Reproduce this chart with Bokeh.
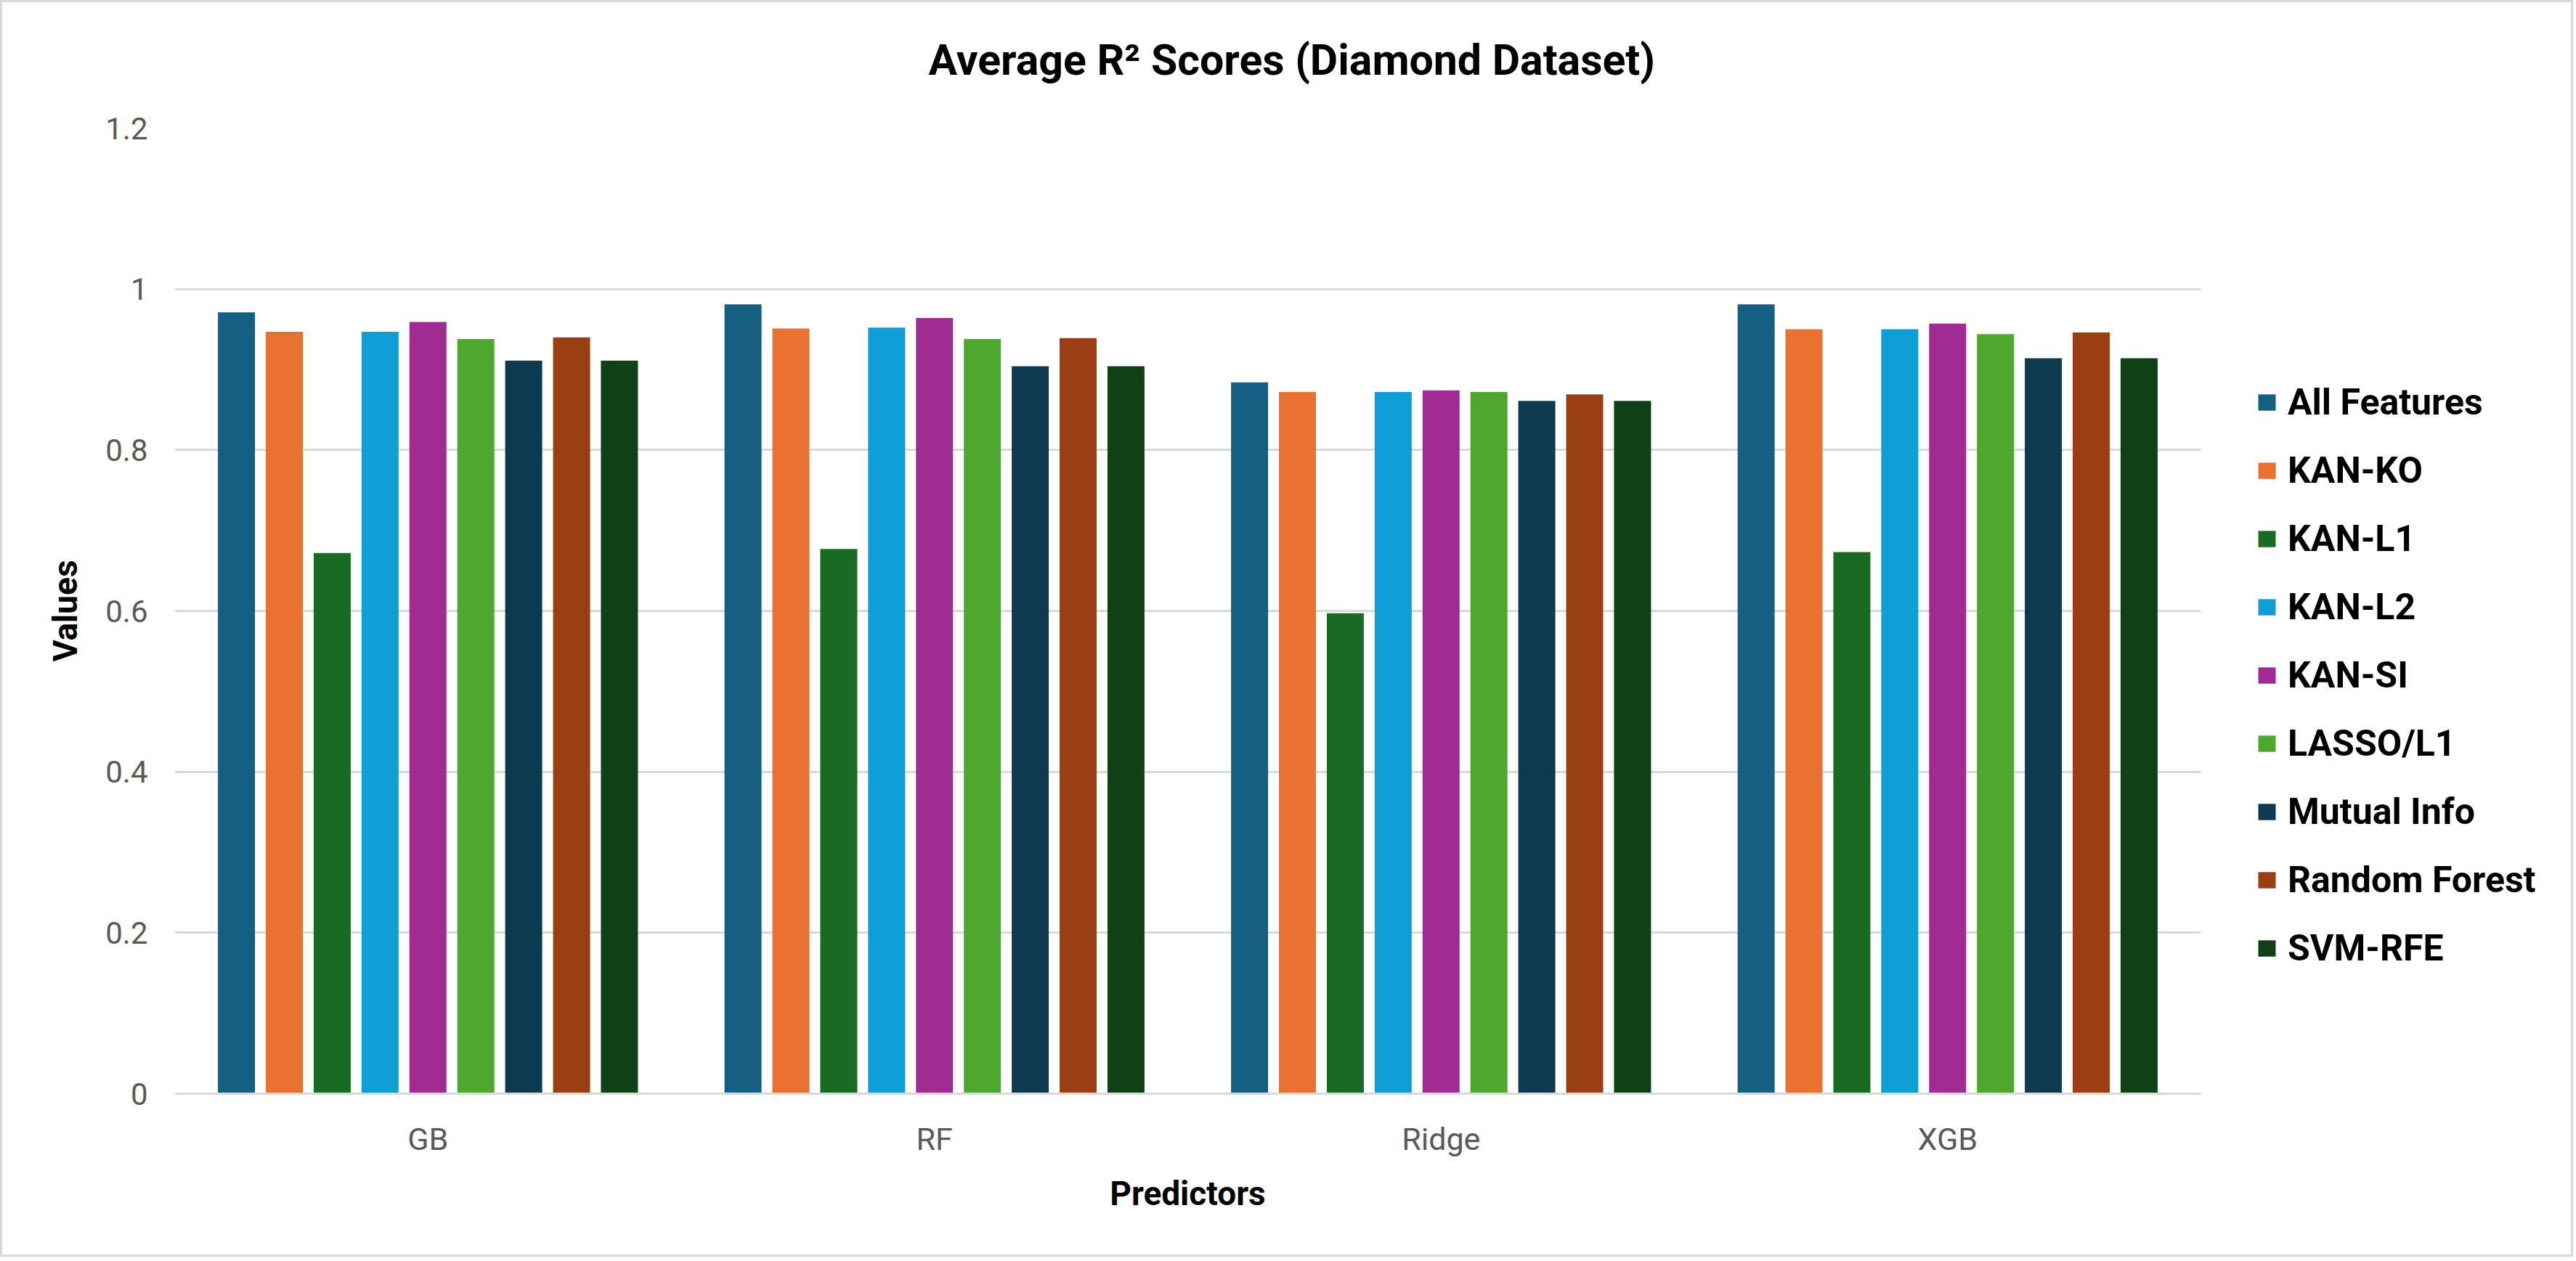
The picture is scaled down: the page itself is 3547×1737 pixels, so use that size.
from bokeh.plotting import figure
from bokeh.layouts import row
from bokeh.models import ColumnDataSource, FactorRange, Range1d, FixedTicker, Legend, LegendItem, Title
from bokeh.transform import dodge
from bokeh.embed import file_html
from bokeh.resources import INLINE

# ---------------- data ----------------
predictors = ["GB", "RF", "Ridge", "XGB"]
methods = ["All Features", "KAN-KO", "KAN-L1", "KAN-L2", "KAN-SI",
           "LASSO/L1", "Mutual Info", "Random Forest", "SVM-RFE"]

all_features = [0.971, 0.981, 0.884, 0.981]
kan_ko = [0.947, 0.951, 0.872, 0.950]
kan_l1 = [0.672, 0.677, 0.597, 0.673]
kan_l2 = [0.947, 0.952, 0.872, 0.950]
kan_si = [0.959, 0.964, 0.874, 0.957]
lasso_l1 = [0.938, 0.938, 0.872, 0.944]
mutual_info = [0.911, 0.904, 0.861, 0.914]
random_forest = [0.940, 0.939, 0.869, 0.946]
svm_rfe = [0.911, 0.904, 0.861, 0.914]

series_values = [all_features, kan_ko, kan_l1, kan_l2, kan_si,
                 lasso_l1, mutual_info, random_forest, svm_rfe]

colors = ["#156082", "#E97132", "#196B24", "#0F9ED5", "#A02B93",
          "#4EA72E", "#0D3A4F", "#993F13", "#0F4016"]

y_ticks = [0, 0.2, 0.4, 0.6, 0.8, 1.0, 1.2]
y_tick_labels = ["0", "0.2", "0.4", "0.6", "0.8", "1", "1.2"]

title_text = "Average R\u00b2 Scores (Diamond Dataset)"

# ---------------- layout ----------------
B = 3                 # css border width around the whole chart
H = 1725
W1 = 3040 - B         # main chart width
W2 = 3537 - W1        # legend strip width
FL, FR, FT, FB = 240 - B, 3030 - B, 176 - B, 1506 - B

FONT = "Roboto"

data = {"pred": predictors}
keys = []
for i, vals in enumerate(series_values):
    k = "s%d" % i
    keys.append(k)
    data[k] = vals
src = ColumnDataSource(data)

p = figure(x_range=FactorRange(*predictors), y_range=Range1d(0, 1.2),
           width=W1, height=H, output_backend="svg", toolbar_location=None,
           min_border_left=FL, min_border_right=W1 - FR,
           min_border_top=FT, min_border_bottom=H - FB)
p.x_range.range_padding = 0

slot = 0.0945
bar_w = 0.0731
for i, k in enumerate(keys):
    p.vbar(x=dodge("pred", (i - 4) * slot, range=p.x_range), top=k,
           width=bar_w, source=src, fill_color=colors[i], line_color=None)

# title (outermost) plus a thin spacer between it and the plot area
p.title.text = title_text
p.title.align = "left"
p.title.offset = 1278 - 240
p.title.vertical_align = "top"
p.title.text_font = FONT
p.title.text_font_style = "bold"
p.title.text_font_size = "59px"
p.title.text_color = "#000000"
p.title.standoff = 82
p.add_layout(Title(text=" ", text_font_size="10px", standoff=4), "above")

# axes
p.yaxis.ticker = FixedTicker(ticks=y_ticks)
p.yaxis.major_label_overrides = dict(zip(y_ticks, y_tick_labels))
p.yaxis.axis_line_color = None
p.yaxis.major_tick_line_color = None
p.yaxis.major_tick_out = 0
p.yaxis.major_tick_in = 0
p.yaxis.minor_tick_line_color = None
p.yaxis.major_label_standoff = 37
p.yaxis.major_label_text_font = FONT
p.yaxis.major_label_text_font_size = "42px"
p.yaxis.major_label_text_color = "#595959"
p.yaxis.axis_label = "Values"
p.yaxis.axis_label_text_font = FONT
p.yaxis.axis_label_text_font_style = "bold"
p.yaxis.axis_label_text_font_size = "46px"
p.yaxis.axis_label_text_color = "#000000"
p.yaxis.axis_label_standoff = 25

p.xaxis.axis_line_color = "#D9D9D9"
p.xaxis.axis_line_width = 3
p.xaxis.major_tick_line_color = None
p.xaxis.minor_tick_line_color = None
p.xaxis.major_label_standoff = 31
p.xaxis.major_label_text_font = FONT
p.xaxis.major_label_text_font_size = "43px"
p.xaxis.major_label_text_color = "#595959"
p.xaxis.axis_label = "Predictors"
p.xaxis.axis_label_text_font = FONT
p.xaxis.axis_label_text_font_style = "bold"
p.xaxis.axis_label_text_font_size = "46px"
p.xaxis.axis_label_text_color = "#000000"
p.xaxis.axis_label_standoff = 20

p.xgrid.grid_line_color = None
p.ygrid.ticker = FixedTicker(ticks=y_ticks)
p.ygrid.grid_line_color = "#D9D9D9"
p.ygrid.grid_line_width = 3
p.outline_line_color = None

# legend strip to the right of the plot area; its series renderers are hidden,
# only their swatches appear in the legend
q = figure(x_range=FactorRange(*predictors), y_range=Range1d(0, 1.2),
           width=W2, height=H, output_backend="svg", toolbar_location=None,
           x_axis_location=None, y_axis_location=None, min_border=0)
q.grid.visible = False
q.outline_line_color = None
leg_renderers = []
for i, k in enumerate(keys):
    r = q.vbar(x=dodge("pred", (i - 4) * slot, range=q.x_range), top=k,
               width=bar_w, source=src, fill_color=colors[i], line_color=None,
               visible=False)
    leg_renderers.append(r)

legend = Legend(items=[LegendItem(label=m, renderers=[r]) for m, r in zip(methods, leg_renderers)],
                location=(3106 - 3040, FB - (1306 + 29 - B)),
                orientation="vertical",
                glyph_width=30, glyph_height=28, label_height=28,
                label_standoff=14, spacing=36, padding=0, margin=0,
                border_line_color=None, background_fill_alpha=0,
                inactive_fill_alpha=0,
                label_text_font=FONT, label_text_font_style="bold",
                label_text_font_size="50px", label_text_color="#000000")
q.add_layout(legend)

layout = row(p, q, spacing=0)
layout.styles = {"border": "3px solid #D9D9D9"}

open("out.html", "w").write(file_html(layout, INLINE))
